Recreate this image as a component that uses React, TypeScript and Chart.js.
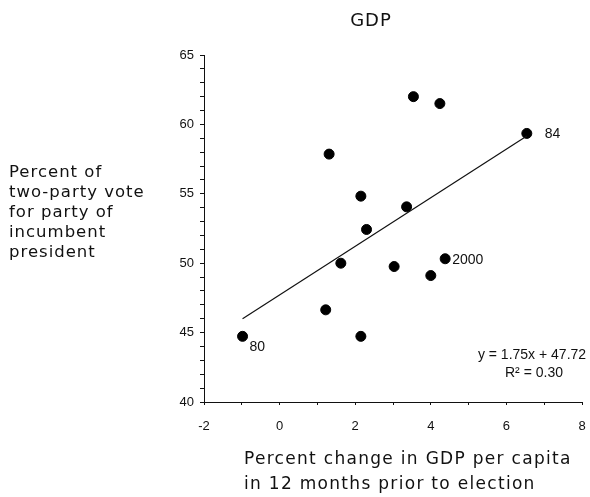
import React, { useEffect, useRef } from "react";
import { Chart, registerables } from "chart.js";

Chart.register(...registerables);

const gdpChange = [-0.98, 1.22, 1.31, 1.62, 2.15, 2.15, 2.3, 3.03, 3.36, 3.54, 4.0, 4.24, 4.38, 6.54];
const voteShare = [44.73, 46.64, 57.86, 50.0, 54.83, 44.73, 52.43, 49.76, 54.06, 62.0, 49.11, 61.5, 50.32, 59.35];
const trendSlope = 1.75;
const trendIntercept = 47.72;
const trendRange = [-0.98, 6.54];
const pointLabels = [
  { x: 6.54, y: 59.35, text: "84", dx: 18, dy: 1 },
  { x: 4.38, y: 50.32, text: "2000", dx: 7, dy: 1 },
  { x: -0.98, y: 44.73, text: "80", dx: 7, dy: 11 },
];
const titleText = "GDP";
const yTitleLines = ["Percent of", "two-party vote", "for party of", "incumbent", "president"];
const xTitleLines = ["Percent change in GDP per capita", "in 12 months prior to election"];
const equationLines = ["y = 1.75x + 47.72", "R² = 0.30"];

const TITLE_FONT = "'DejaVu Sans', sans-serif";
const TICK_FONT = "'Liberation Sans', Arial, sans-serif";

const textPlugin = {
  id: "textPlugin",
  afterDraw(chart: any) {
    const ctx = chart.ctx;
    const xs = chart.scales.x;
    const ys = chart.scales.y;
    ctx.save();
    ctx.fillStyle = "#111";
    ctx.textBaseline = "middle";
    // title
    ctx.font = `18px ${TITLE_FONT}`;
    ctx.textAlign = "center";
    (ctx as any).letterSpacing = "1px";
    ctx.fillText(titleText, 371, 21);
    // y title
    ctx.font = `16.5px ${TITLE_FONT}`;
    ctx.textAlign = "left";
    (ctx as any).letterSpacing = "1px";
    yTitleLines.forEach((l, i) => ctx.fillText(l, 9, 173 + i * 20));
    // x title
    ctx.font = `17px ${TITLE_FONT}`;
    (ctx as any).letterSpacing = "1.3px";
    xTitleLines.forEach((l, i) => ctx.fillText(l, 244, 460 + i * 25));
    (ctx as any).letterSpacing = "0px";
    // point labels
    ctx.font = `14px ${TICK_FONT}`;
    ctx.textAlign = "left";
    pointLabels.forEach((p) => {
      ctx.fillText(p.text, xs.getPixelForValue(p.x) + p.dx, ys.getPixelForValue(p.y) + p.dy);
    });
    // equation
    ctx.textAlign = "center";
    ctx.fillText(equationLines[0], 532, 355);
    ctx.fillText(equationLines[1], 534, 373);
    ctx.restore();
  },
};

export default function App() {
  const ref = useRef<HTMLCanvasElement>(null);
  useEffect(() => {
    if (!ref.current) return;
    const pts = gdpChange.map((x, i) => ({ x, y: voteShare[i] }));
    const trend = trendRange.map((x) => ({ x, y: trendSlope * x + trendIntercept }));
    const chart = new Chart(ref.current, {
      type: "scatter",
      data: {
        datasets: [
          {
            type: "line",
            data: trend,
            borderColor: "#111",
            borderWidth: 1.2,
            pointRadius: 0,
            fill: false,
          } as any,
          {
            data: pts,
            backgroundColor: "#000",
            borderColor: "#000",
            pointRadius: 5,
          },
        ],
      },
      options: {
        responsive: false,
        animation: false,
        layout: { padding: { left: 0, right: 8, top: 55, bottom: 0 } },
        plugins: { legend: { display: false }, tooltip: { enabled: false }, title: { display: false } },
        scales: {
          x: {
            type: "linear",
            min: -2,
            max: 8,
            ticks: {
              stepSize: 1,
              color: "#111",
              font: { family: TICK_FONT, size: 13 },
              padding: 14,
              maxRotation: 0,
              autoSkip: false,
              callback: (v: any) => (Number(v) % 2 === 0 ? String(v) : ""),
            },
            grid: { drawOnChartArea: false, tickLength: 3, color: "#111" },
            border: { color: "#111", width: 1 },
            afterFit: (s: any) => {
              s.height = 95;
              s.paddingLeft = 0;
              s.paddingRight = 0;
            },
          },
          y: {
            type: "linear",
            min: 40,
            max: 65,
            ticks: {
              stepSize: 1,
              color: "#111",
              font: { family: TICK_FONT, size: 13 },
              padding: 6,
              autoSkip: false,
              callback: (v: any) => (Number(v) % 5 === 0 ? String(v) : ""),
            },
            grid: { drawOnChartArea: false, tickLength: 4, color: "#111" },
            border: { color: "#111", width: 1 },
            afterFit: (s: any) => {
              s.width = 204;
              s.paddingTop = 0;
              s.paddingBottom = 0;
            },
          },
        },
      },
      plugins: [textPlugin],
    });
    return () => chart.destroy();
  }, []);
  return (
    <div style={{ position: "absolute", left: 0, top: 0, width: 590, height: 497, background: "#fff" }}>
      <canvas ref={ref} width={590} height={497} style={{ width: 590, height: 497 }} />
    </div>
  );
}
